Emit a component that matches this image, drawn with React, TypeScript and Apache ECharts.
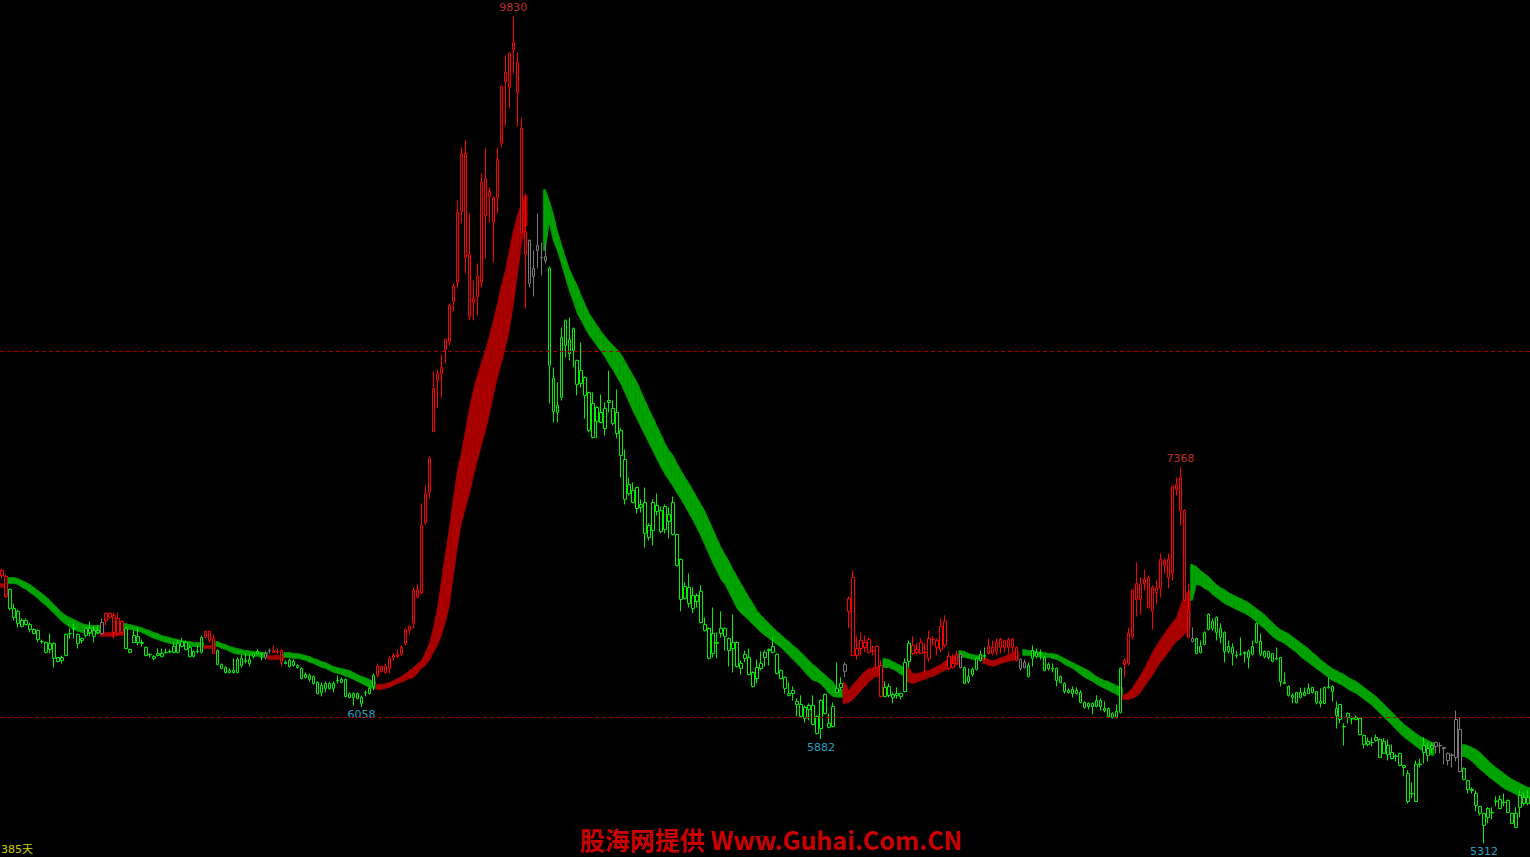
import React, { useEffect, useRef } from 'react';
import * as echarts from 'echarts';

// [open, close, low, high] per trading day
const candles: number[][] = [
  [6776,6804,6760,6814],[6771,6661,6651,6782],[6700,6596,6585,6705],[6596,6547,6530,6623],[6580,6514,6492,6590],
  [6498,6530,6492,6541],[6530,6508,6503,6541],[6508,6481,6465,6519],[6481,6459,6454,6487],[6476,6426,6410,6481],
  [6416,6414,6405,6426],[6410,6356,6350,6416],[6372,6405,6350,6459],[6405,6323,6273,6410],[6328,6306,6301,6330],
  [6312,6328,6295,6339],[6339,6454,6334,6459],[6459,6457,6432,6487],[6487,6485,6432,6514],[6454,6405,6377,6459],
  [6432,6421,6405,6437],[6448,6487,6437,6492],[6465,6487,6443,6525],[6476,6443,6410,6503],[6476,6465,6454,6503],
  [6459,6519,6454,6541],[6530,6569,6503,6574],[6569,6547,6541,6574],[6558,6465,6432,6574],[6459,6541,6448,6574],
  [6525,6465,6459,6530],[6487,6377,6372,6492],[6356,6372,6350,6377],[6410,6448,6405,6476],[6443,6410,6394,6487],
  [6410,6405,6388,6426],[6383,6339,6334,6388],[6345,6343,6328,6350],[6334,6323,6312,6339],[6339,6350,6334,6377],
  [6334,6350,6328,6377],[6356,6354,6350,6377],[6361,6358,6350,6372],[6388,6356,6350,6410],[6356,6405,6350,6421],
  [6388,6416,6383,6437],[6410,6372,6366,6421],[6383,6334,6328,6394],[6334,6361,6328,6366],[6361,6359,6350,6394],
  [6356,6437,6350,6448],[6437,6470,6432,6476],[6470,6421,6410,6476],[6432,6350,6345,6454],[6366,6290,6284,6372],
  [6290,6268,6263,6295],[6273,6246,6240,6279],[6257,6246,6240,6268],[6257,6246,6240,6323],[6246,6317,6240,6328],
  [6323,6284,6273,6345],[6312,6306,6295,6350],[6295,6317,6279,6345],[6334,6350,6323,6356],[6361,6350,6345,6372],
  [6350,6345,6312,6356],[6328,6350,6317,6366],[6366,6364,6350,6377],[6356,6366,6350,6394],[6361,6359,6345,6377],
  [6366,6301,6279,6372],[6301,6295,6290,6312],[6312,6279,6273,6323],[6284,6306,6279,6317],[6284,6273,6268,6290],
  [6268,6213,6208,6273],[6219,6235,6213,6246],[6230,6208,6197,6240],[6224,6186,6181,6230],[6192,6131,6126,6197],
  [6137,6175,6115,6192],[6159,6186,6137,6197],[6186,6159,6153,6192],[6159,6186,6137,6197],[6202,6200,6186,6230],
  [6192,6208,6186,6219],[6208,6115,6110,6213],[6131,6110,6104,6137],[6110,6131,6066,6137],[6131,6104,6099,6137],
  [6077,6110,6058,6121],[6137,6135,6115,6148],[6131,6159,6126,6175],[6170,6230,6148,6240],[6230,6279,6219,6295],
  [6279,6252,6246,6284],[6246,6279,6240,6295],[6268,6323,6240,6334],[6328,6339,6312,6350],[6345,6334,6323,6372],
  [6345,6383,6339,6394],[6405,6481,6394,6487],[6476,6498,6454,6503],[6514,6694,6487,6711],[6700,6661,6651,6732],
  [6683,7049,6672,7170],[7066,7224,7055,7268],[7230,7416,7197,7426],[7563,7798,7558,7891],[7842,7880,7689,7902],
  [7880,7913,7749,7984],[8011,8066,7935,8071],[8055,8252,8033,8262],[8273,8355,8219,8372],[8377,8760,8344,8825],
  [8765,9082,8700,9115],[9082,8514,8426,9153],[8530,8191,8170,8754],[8290,8268,8170,8388],[8410,8301,8197,8481],
  [8377,8924,8350,8973],[8945,8743,8508,9109],[8874,8847,8705,8896],[8705,8842,8486,8847],[8842,9049,8754,9115],
  [9137,9448,9115,9454],[9525,9475,9235,9618],[9443,9628,9328,9634],[9689,9650,9519,9830],[9579,9415,9230,9634],
  [9219,8650,8645,9279],[8530,8656,8235,8863],[8607,8372,8350,8612],[8454,8410,8301,8552],[8552,8579,8454,8754],
  [8514,8512,8415,8596],[8497,8519,8481,8596],[8454,7924,7716,8465],[7853,7672,7612,7913],[7705,7667,7612,7831],
  [7749,8077,7732,8131],[8170,8033,7967,8175],[7989,8066,7951,8186],[8126,8006,7913,8131],[7951,7820,7760,7956],
  [7825,7896,7803,8049],[7858,7760,7634,7864],[7776,7569,7558,7782],[7530,7716,7525,7776],[7694,7618,7525,7700],
  [7667,7612,7607,7765],[7579,7689,7541,7722],[7722,7732,7667,7896],[7607,7689,7596,7732],[7667,7552,7525,7793],
  [7569,7432,7312,7580],[7410,7192,7164,7465],[7224,7273,7213,7312],[7241,7175,7170,7284],[7257,7142,7115,7262],
  [7148,7164,7120,7192],[7175,7006,6929,7257],[6984,7049,6967,7060],[7022,7175,6940,7192],[7159,7126,7104,7224],
  [7131,7016,7006,7153],[7027,7153,7006,7164],[7071,7110,6978,7148],[7175,7000,6995,7208],[7000,6831,6825,7003],
  [6864,6645,6580,6869],[6716,6651,6645,6738],[6711,6623,6601,6787],[6596,6667,6569,6711],[6634,6667,6601,6678],
  [6689,6519,6514,6722],[6508,6476,6470,6547],[6487,6323,6317,6492],[6350,6459,6328,6601],[6405,6410,6323,6465],
  [6459,6487,6437,6580],[6487,6443,6366,6492],[6432,6366,6279,6437],[6410,6377,6246,6563],[6410,6279,6273,6416],
  [6295,6268,6235,6312],[6323,6345,6301,6366],[6328,6235,6230,6377],[6246,6170,6164,6252],[6213,6273,6186,6317],
  [6268,6295,6257,6361],[6328,6356,6279,6366],[6366,6372,6284,6377],[6388,6356,6350,6437],[6345,6241,6235,6350],
  [6257,6213,6208,6262],[6219,6159,6131,6224],[6131,6121,6115,6192],[6148,6131,6093,6170],[6088,6071,6006,6104],
  [6071,6006,6000,6121],[5995,6055,5973,6066],[6044,6066,5984,6077],[6066,5962,5957,6121],[6006,5913,5907,6011],
  [5940,6093,5882,6099],[6126,6022,6017,6131],[5968,5946,5940,6022],[5951,6060,5946,6082],[6137,6159,6131,6301],
  [6186,6164,6148,6219],[6252,6290,6219,6301],[6580,6651,6487,6661],[6765,6339,6334,6804],[6339,6377,6317,6443],
  [6421,6377,6339,6465],[6410,6383,6356,6448],[6426,6356,6350,6437],[6366,6364,6339,6394],[6388,6273,6268,6394],
  [6284,6115,6110,6312],[6115,6164,6110,6197],[6170,6121,6110,6186],[6126,6110,6077,6137],[6121,6131,6104,6164],
  [6131,6115,6099,6137],[6142,6301,6137,6323],[6306,6405,6273,6421],[6394,6350,6339,6443],[6356,6372,6345,6405],
  [6350,6410,6345,6432],[6356,6354,6246,6405],[6323,6432,6301,6476],[6426,6428,6394,6443],[6421,6383,6339,6432],
  [6372,6498,6356,6541],[6525,6394,6383,6558],[6334,6268,6257,6361],[6273,6295,6268,6345],[6345,6295,6290,6366],
  [6345,6273,6268,6350],[6273,6186,6181,6279],[6197,6224,6186,6268],[6235,6263,6224,6273],[6263,6323,6257,6328],
  [6312,6345,6306,6366],[6334,6339,6317,6383],[6388,6350,6345,6432],[6350,6383,6339,6421],[6361,6410,6339,6432],
  [6426,6383,6350,6437],[6421,6383,6356,6421],[6383,6426,6350,6437],[6426,6383,6356,6437],[6383,6312,6306,6388],
  [6317,6268,6257,6323],[6273,6301,6268,6317],[6284,6224,6219,6301],[6366,6323,6279,6394],[6334,6356,6323,6377],
  [6356,6350,6317,6372],[6328,6257,6252,6334],[6268,6290,6257,6301],[6270,6266,6246,6295],[6268,6202,6170,6273],
  [6224,6192,6186,6230],[6186,6142,6131,6192],[6148,6137,6131,6159],[6131,6153,6110,6170],[6148,6131,6126,6164],
  [6137,6082,6077,6148],[6082,6055,6049,6088],[6060,6077,6044,6082],[6077,6060,6017,6082],[6060,6093,6055,6121],
  [6060,6093,6038,6104],[6049,6038,6028,6088],[6049,6006,6000,6055],[6022,6000,5995,6028],[6000,6033,5995,6071],
  [6028,6268,6022,6273],[6290,6312,6219,6323],[6295,6459,6284,6492],[6443,6694,6426,6700],[6732,6645,6552,6847],
  [6645,6727,6563,6765],[6754,6732,6694,6809],[6765,6601,6596,6776],[6580,6711,6481,6722],[6711,6683,6618,6749],
  [6705,6864,6656,6896],[6858,6831,6787,6869],[6864,6765,6705,6896],[6787,7262,6749,7268],[7246,7273,7213,7312],
  [7312,7131,7049,7368],[7131,6640,6634,7137],[6585,6437,6432,6732],[6416,6432,6410,6492],[6432,6350,6345,6437],
  [6356,6388,6350,6421],[6399,6465,6394,6470],[6563,6481,6476,6569],[6487,6525,6476,6541],[6547,6465,6421,6552],
  [6437,6487,6405,6514],[6465,6361,6301,6470],[6361,6388,6350,6421],[6383,6350,6284,6405],[6340,6337,6323,6366],
  [6345,6343,6339,6437],[6356,6350,6301,6361],[6328,6361,6268,6372],[6345,6388,6339,6421],[6514,6410,6405,6519],
  [6416,6345,6334,6459],[6334,6361,6323,6366],[6361,6328,6317,6364],[6350,6306,6301,6352],[6323,6320,6312,6383],
  [6328,6197,6170,6330],[6192,6186,6184,6246],[6170,6121,6115,6175],[6121,6110,6077,6131],[6137,6082,6077,6140],
  [6110,6137,6104,6164],[6137,6121,6115,6164],[6131,6159,6128,6186],[6164,6137,6131,6167],[6142,6082,6071,6145],
  [6077,6088,6055,6159],[6077,6164,6074,6170],[6166,6162,6159,6219],[6142,6170,6088,6175],[6011,6049,5940,6088],
  [6071,5989,5968,6074],[5951,5949,5847,5968],[6022,6000,5968,6028],[5995,5992,5962,6006],[6000,5989,5984,6011],
  [5995,5907,5902,6000],[5902,5853,5831,5907],[5853,5869,5842,5891],[5864,5862,5842,5891],[5875,5891,5869,5907],
  [5880,5782,5778,5885],[5804,5869,5800,5886],[5847,5798,5765,5880],[5809,5776,5771,5853],[5790,5787,5760,5798],
  [5804,5738,5733,5807],[5727,5738,5678,5741],[5694,5541,5530,5711],[5585,5583,5558,5645],[5541,5744,5538,5765],
  [5746,5742,5727,5776],[5809,5847,5749,5891],[5831,5793,5760,5864],[5831,5847,5804,5864],[5842,5864,5804,5867],
  [5847,5845,5804,5864],[5836,5831,5744,5839],[5804,5765,5738,5809],[5795,5793,5727,5804],[5782,5989,5760,6038],
  [5935,5705,5700,6000],[5722,5662,5656,5727],[5656,5607,5585,5660],[5607,5601,5585,5618],[5585,5519,5487,5601],
  [5514,5476,5465,5516],[5476,5410,5312,5478],[5454,5503,5421,5509],[5482,5479,5443,5509],[5541,5544,5514,5569],
  [5503,5552,5498,5574],[5537,5535,5514,5585],[5547,5481,5478,5552],[5476,5421,5418,5478],[5399,5476,5396,5509],
  [5509,5574,5454,5601],[5563,5530,5519,5590],[5530,5563,5519,5601],
];

// trend band: upper and lower edge per day (null = no band)
const bandUpper: (number | null)[] = [
  6732,6732,6765,6765,6760,6749,6738,6727,6711,6694, 6678,6661,6640,6618,6596,6574,6558,6547,6536,6525,
  6514,6508,6503,6503,6503,6465,6465,6465,6465,6470, 6470,6514,6508,6503,6498,6492,6481,6476,6465,6459,
  6448,6443,6437,6432,6426,6421,6416,6416,6410,6410, 6410,6394,6394,6394,6416,6405,6399,6388,6383,6377,
  6372,6366,6366,6361,6361,6356,6356,6339,6339,6339, 6339,6356,6356,6350,6350,6345,6339,6334,6323,6317,
  6306,6301,6290,6279,6273,6268,6263,6257,6246,6235, 6224,6219,6208,6197,6181,6181,6186,6192,6202,6213,
  6224,6241,6257,6273,6295,6312,6356,6405,6492,6601, 6749,6896,7038,7202,7350,7448,7569,7689,7793,7869,
  7940,8006,8082,8170,8257,8361,8443,8552,8661,8743, 8809,8853,null,null,null,null,8885,8825,8754,8661,
  8590,8519,8454,8405,8361,8306,8257,8208,8175,8142, 8109,8082,8055,8033,8011,7984,7946,7907,7869,7831,
  7782,7732,7683,7640,7590,7547,7497,7459,7432,7388, 7350,7312,7279,7241,7202,7164,7126,7077,7027,6978,
  6929,6891,6853,6809,6771,6732,6694,6656,6623,6585, 6558,6536,6514,6492,6470,6454,6432,6416,6394,6377,
  6356,6334,6312,6290,6273,6252,6235,6213,6197,6159, 6153,6192,6148,6181,6202,6230,6252,6268,6273,6279,
  6284,6323,6317,6306,6295,6284,6268,6273,6241,6241, 6246,6252,6257,6268,6279,6290,6306,6323,6334,6345,
  6366,6361,6350,6345,6339,6339,6328,6317,6312,6317, 6328,6334,6345,6356,6361,null,6372,6366,6366,6361,
  6356,6356,6350,6350,6345,6334,6323,6312,6301,6290, 6279,6268,6257,6241,6224,6213,6202,6197,6186,6175,
  6164,6126,6137,6164,6197,6230,6268,6312,6356,6394, 6426,6459,6492,6519,6547,6612,6661,6694,6836,6825,
  6804,6787,6771,6749,6727,6711,6700,6683,6672,6661, 6651,6640,6629,6612,6596,6580,6563,6541,6519,6498,
  6481,6470,6459,6443,6426,6410,6394,6377,6356,6339, 6317,6301,6284,6268,6257,6246,6235,6219,6208,6197,
  6181,6164,6148,6131,6115,6093,6071,6049,6028,6006, 5984,5962,5946,5929,5913,5897,5886,5875,5864,null,
  null,null,null,null,null,null,5853,5847,5836,5825, 5809,5787,5765,5744,5727,5711,5694,5678,5662,5651,
  5640,5629,5618,
];

const bandLower: (number | null)[] = [
  6711,6711,6732,6732,6727,6711,6700,6683,6667,6651, 6629,6612,6590,6569,6547,6525,6508,6492,6481,6470,
  6465,6459,6459,6459,6459,6443,6443,6443,6443,6448, 6448,6481,6481,6476,6470,6465,6454,6443,6432,6426,
  6416,6410,6405,6399,6394,6394,6394,6388,6388,6388, 6383,6377,6377,6377,6388,6377,6372,6361,6350,6345,
  6345,6339,6339,6334,6334,6328,6328,6317,6317,6317, 6317,6328,6328,6323,6323,6317,6312,6301,6295,6284,
  6273,6268,6257,6246,6240,6235,6224,6219,6208,6197, 6186,6175,6164,6159,6153,6153,6159,6164,6175,6186,
  6192,6202,6213,6219,6241,6268,6284,6312,6356,6394, 6448,6519,6612,6776,6929,7060,7142,7219,7317,7405,
  7486,7563,7656,7760,7853,7935,8022,8115,8252,8415, 8579,8689,null,null,null,null,8552,8705,8607,8552,
  8481,8405,8333,8273,8208,8170,8126,8088,8060,8028, 8000,7967,7929,7896,7858,7820,7771,7722,7672,7629,
  7585,7541,7497,7454,7410,7366,7328,7295,7262,7224, 7192,7153,7115,7077,7033,6989,6940,6891,6842,6798,
  6754,6727,6683,6640,6596,6569,6552,6530,6508,6487, 6465,6448,6432,6416,6399,6383,6361,6339,6317,6295,
  6273,6246,6224,6202,6197,6181,6159,6131,6115,6110, 6110,6077,6082,6099,6121,6148,6170,6192,6213,6224,
  6235,6273,6273,6263,6252,6235,6230,6192,6186,6192, 6202,6208,6219,6224,6235,6246,6257,6268,6279,6290,
  6328,6328,6323,6317,6317,6312,6295,6284,6279,6284, 6295,6301,6306,6312,6317,null,6339,6339,6339,6334,
  6328,6328,6328,6323,6317,6306,6290,6279,6268,6252, 6235,6219,6208,6197,6181,6170,6159,6148,6137,6126,
  6115,6099,6099,6104,6115,6137,6170,6202,6230,6268, 6301,6328,6356,6388,6416,6432,6454,6487,6640,6727,
  6722,6705,6694,6672,6656,6640,6623,6612,6601,6590, 6580,6569,6558,6541,6525,6503,6487,6465,6443,6426,
  6416,6405,6388,6372,6356,6334,6317,6301,6284,6268, 6252,6235,6219,6202,6192,6181,6170,6153,6142,6131,
  6115,6099,6082,6066,6044,6022,6000,5979,5957,5935, 5913,5891,5875,5858,5842,5825,5815,5804,5793,null,
  null,null,null,null,null,null,5787,5776,5760,5738, 5716,5700,5678,5662,5645,5629,5612,5601,5590,5580,
  5563,5558,5547,
];

// band trend state runs: r = rising (red), g = falling (green), n = none
const bandRuns: [number, string][] = [
  [2,'r'],[23,'g'],[6,'r'],[20,'g'],[3,'r'],[13,'g'],[4,'r'],[23,'g'],[38,'r'],[4,'n'],[75,'g'],
  [10,'r'],[6,'g'],[13,'r'],[6,'g'],[9,'r'],[1,'n'],[25,'g'],[17,'r'],[61,'g'],[7,'n'],[17,'g'],
];

// candle colour state runs: r = red, g = green, x = gray
const candleRuns: [number, string][] = [
  [2,'r'],[23,'g'],[1,'x'],[5,'r'],[20,'g'],[3,'r'],[12,'g'],[2,'x'],[3,'r'],[23,'g'],[38,'r'],[5,'x'],
  [74,'g'],[1,'x'],[9,'r'],[7,'g'],[12,'r'],[1,'x'],[6,'g'],[8,'r'],[2,'x'],[24,'g'],[17,'r'],[1,'x'],
  [60,'g'],[7,'x'],[17,'g'],
];

const extremeIndex = [128, 90, 205, 295, 371];
const extremeSide = ['high', 'low', 'low', 'high', 'low'];
const gridLevels = [6000, 8000];
const watermark = '股海网提供 Www.Guhai.Com.CN';
const cornerText = '385天';

const CANDLE_COL: Record<string, string> = { r: '#ff0000', g: '#00f000', x: '#7a7a7a' };
const BAND_COL: Record<string, string> = { r: '#aa0000', g: '#00a300' };

function expand(runs: [number, string][]): string[] {
  const out: string[] = [];
  runs.forEach(([n, s]) => {
    for (let k = 0; k < n; k++) out.push(s);
  });
  return out;
}

export default function App() {
  const ref = useRef<HTMLDivElement>(null);

  useEffect(() => {
    if (!ref.current) return;
    document.body.style.margin = '0';
    document.body.style.background = '#000';
    const chart = echarts.init(ref.current, undefined, { renderer: 'svg' });

    const cState = expand(candleRuns);
    const bState = expand(bandRuns);
    const cats = candles.map((_, i) => String(i));

    const candleData = candles.map((v, i) => {
      const col = CANDLE_COL[cState[i]] || '#7a7a7a';
      return {
        value: v,
        itemStyle: {
          color: '#000000',
          color0: col,
          borderColor: col,
          borderColor0: col,
          borderColorDoji: col,
          borderWidth: 1,
        },
      };
    });

    const bandData: number[][] = [];
    for (let i = 0; i < candles.length; i++) {
      const s = bState[i];
      const hi = bandUpper[i];
      const lo = bandLower[i];
      if (s === 'n' || hi == null || lo == null) continue;
      const prevOk = i > 0 && bState[i - 1] === s && bandUpper[i - 1] != null;
      const nextOk = i < candles.length - 1 && bState[i + 1] === s && bandUpper[i + 1] != null;
      const hiL = prevOk ? ((bandUpper[i - 1] as number) + hi) / 2 : hi;
      const loL = prevOk ? ((bandLower[i - 1] as number) + lo) / 2 : lo;
      const hiR = nextOk ? ((bandUpper[i + 1] as number) + hi) / 2 : hi;
      const loR = nextOk ? ((bandLower[i + 1] as number) + lo) / 2 : lo;
      bandData.push([i, hi, lo, hiL, loL, hiR, loR, s === 'r' ? 1 : 0]);
    }

    const labelData = extremeIndex.map((idx, k) => {
      const high = extremeSide[k] === 'high';
      const val = high ? candles[idx][3] : candles[idx][2];
      return {
        value: [idx, val],
        label: {
          show: true,
          position: high ? 'top' : 'bottom',
          distance: high ? 3 : 2,
          color: high ? '#ee3c3c' : '#33ccee',
          fontSize: 11,
          fontFamily: '"DejaVu Sans", sans-serif',
          formatter: String(val),
        },
      };
    });

    chart.setOption({
      animation: false,
      backgroundColor: '#000000',
      grid: { left: 0, right: 0, top: 0, bottom: 0, containLabel: false },
      xAxis: { type: 'category', data: cats, show: false, boundaryGap: true },
      yAxis: { type: 'value', min: 5237.7, max: 9920.7, show: false, splitLine: { show: false } },
      series: [
        {
          type: 'custom',
          z: 1,
          data: bandData,
          encode: { x: 0, y: [1, 2] },
          renderItem: (params: any, api: any) => {
            const i = api.value(0);
            const half = api.size([1, 0])[0] / 2;
            const pHi = api.coord([i, api.value(1)]);
            const pLo = api.coord([i, api.value(2)]);
            const yHiL = api.coord([i, api.value(3)])[1];
            const yLoL = api.coord([i, api.value(4)])[1];
            const yHiR = api.coord([i, api.value(5)])[1];
            const yLoR = api.coord([i, api.value(6)])[1];
            const color = api.value(7) === 1 ? BAND_COL.r : BAND_COL.g;
            const cx = pHi[0];
            return {
              type: 'polygon',
              shape: {
                points: [
                  [cx - half, yHiL], [cx, pHi[1]], [cx + half, yHiR],
                  [cx + half, yLoR], [cx, pLo[1]], [cx - half, yLoL],
                ],
              },
              style: { fill: color, stroke: color, lineWidth: 0.6 },
            };
          },
        },
        {
          type: 'candlestick',
          z: 2,
          barWidth: 3,
          data: candleData,
          markLine: {
            silent: true,
            symbol: ['none', 'none'],
            label: { show: false },
            lineStyle: { color: '#a00000', type: [4, 3], width: 1, opacity: 1 },
            data: gridLevels.map((v) => ({ yAxis: v })),
          },
        },
        {
          type: 'scatter',
          z: 3,
          symbolSize: 1,
          itemStyle: { color: 'rgba(0,0,0,0)' },
          data: labelData,
        },
      ],
      graphic: [
        {
          type: 'text',
          x: 771,
          y: 839,
          z: 10,
          style: {
            text: watermark,
            fill: '#cc0000',
            font: 'bold 25px "Noto Sans CJK SC", sans-serif',
            lineHeight: 26,
            textAlign: 'center',
            textVerticalAlign: 'middle',
          },
        },
        {
          type: 'text',
          x: 1,
          y: 849,
          z: 10,
          style: {
            text: cornerText,
            fill: '#d0d000',
            font: '11px "DejaVu Sans", "Noto Sans CJK SC", sans-serif',
            textAlign: 'left',
            textVerticalAlign: 'middle',
          },
        },
      ],
    });

    return () => chart.dispose();
  }, []);

  return (
    <div
      ref={ref}
      style={{ position: 'fixed', left: 0, top: 0, width: 1530, height: 857, background: '#000' }}
    />
  );
}
